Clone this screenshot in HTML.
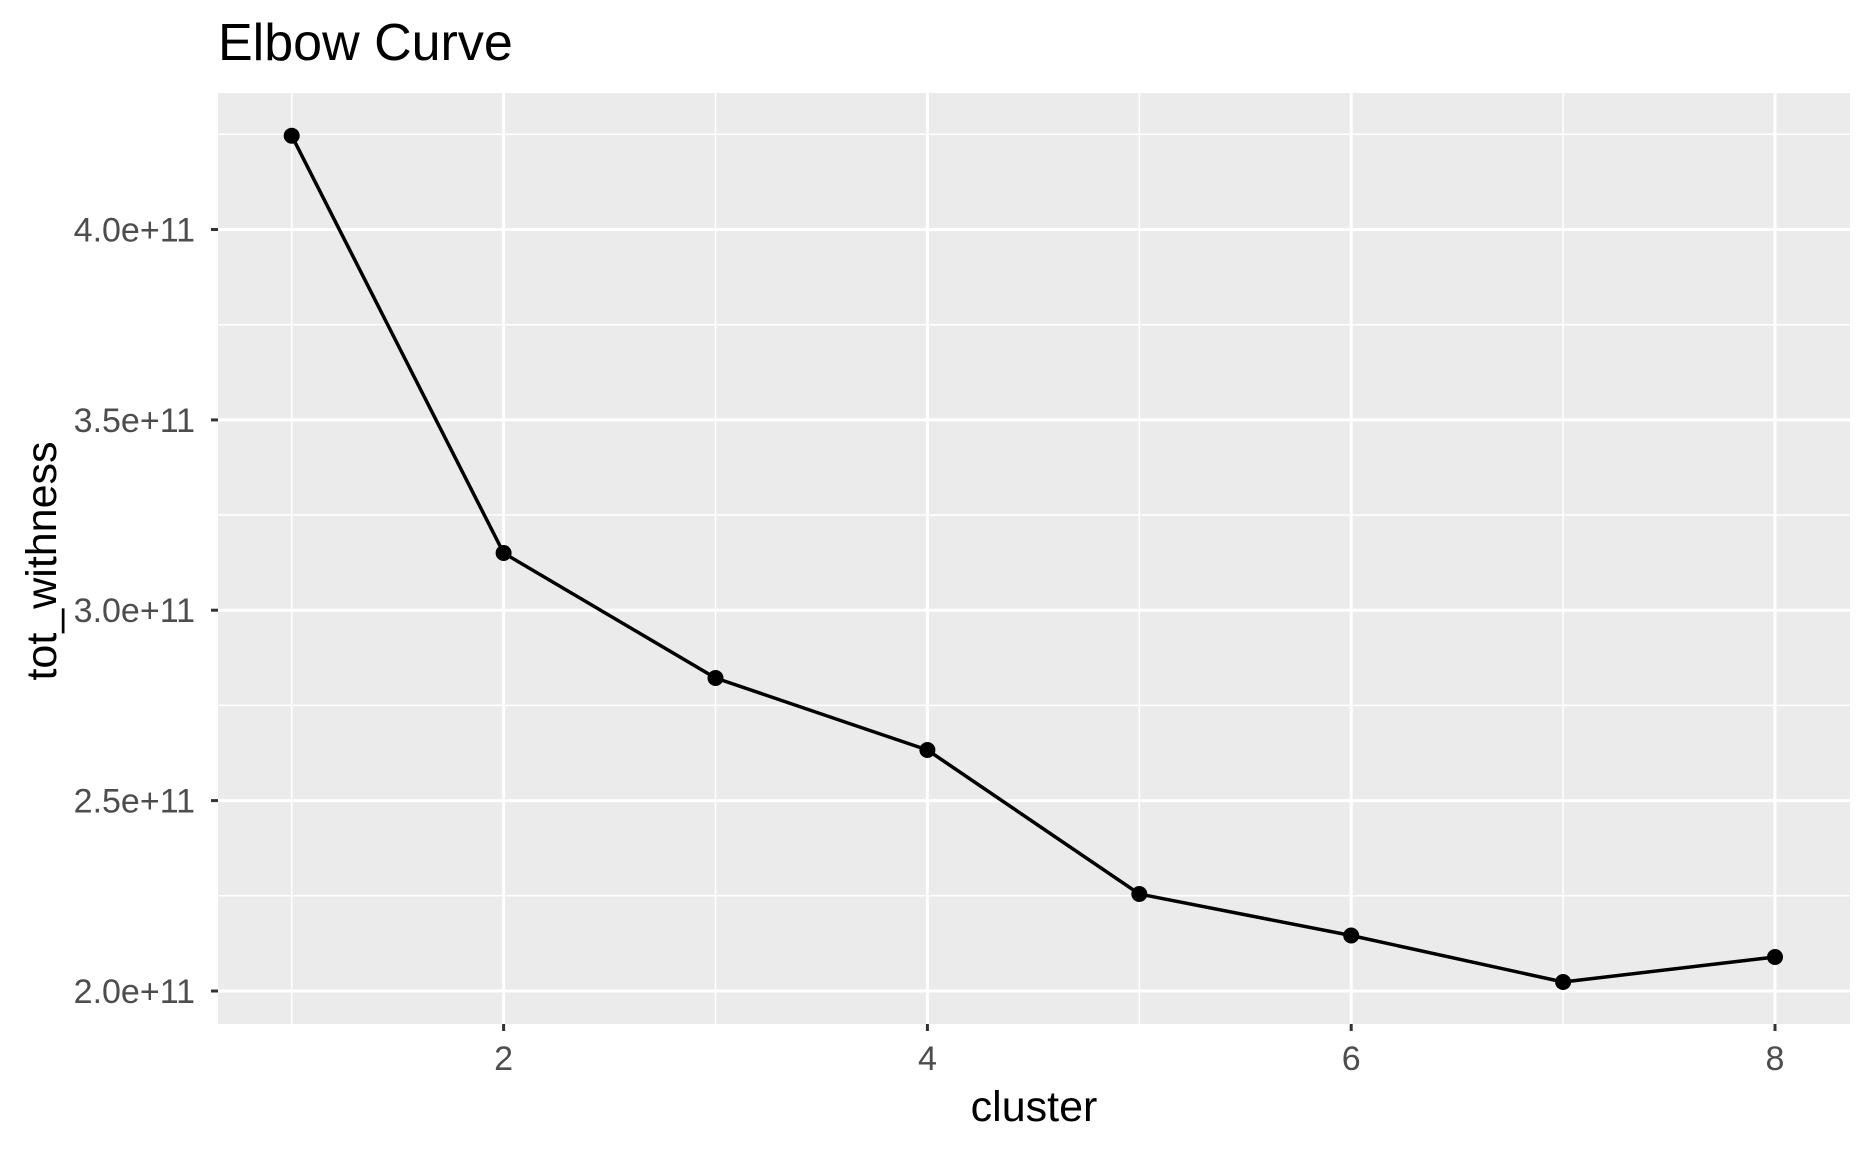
<!DOCTYPE html>
<html><head><style>body{margin:0;background:#fff}svg{display:block}</style></head><body>
<svg width="1872" height="1152" xmlns="http://www.w3.org/2000/svg" font-family="Liberation Sans, sans-serif">
<rect x="218" y="93" width="1632" height="931" fill="#ebebeb"/>
<g stroke="#fff" stroke-width="1.5">
<line x1="218" x2="1850" y1="134.3" y2="134.3"/>
<line x1="218" x2="1850" y1="324.7" y2="324.7"/>
<line x1="218" x2="1850" y1="515" y2="515"/>
<line x1="218" x2="1850" y1="705.4" y2="705.4"/>
<line x1="218" x2="1850" y1="895.8" y2="895.8"/>
<line y1="93" y2="1024" x1="291.7" x2="291.7"/>
<line y1="93" y2="1024" x1="715.5" x2="715.5"/>
<line y1="93" y2="1024" x1="1139.3" x2="1139.3"/>
<line y1="93" y2="1024" x1="1563.1" x2="1563.1"/>
</g>
<g stroke="#fff" stroke-width="3">
<line x1="218" x2="1850" y1="229.5" y2="229.5"/>
<line x1="218" x2="1850" y1="419.9" y2="419.9"/>
<line x1="218" x2="1850" y1="610.2" y2="610.2"/>
<line x1="218" x2="1850" y1="800.6" y2="800.6"/>
<line x1="218" x2="1850" y1="991" y2="991"/>
<line y1="93" y2="1024" x1="503.6" x2="503.6"/>
<line y1="93" y2="1024" x1="927.4" x2="927.4"/>
<line y1="93" y2="1024" x1="1351.2" x2="1351.2"/>
<line y1="93" y2="1024" x1="1775" x2="1775"/>
</g>
<g stroke="#333" stroke-width="3">
<line x1="211" x2="218" y1="229.5" y2="229.5"/>
<line x1="211" x2="218" y1="419.9" y2="419.9"/>
<line x1="211" x2="218" y1="610.2" y2="610.2"/>
<line x1="211" x2="218" y1="800.6" y2="800.6"/>
<line x1="211" x2="218" y1="991" y2="991"/>
<line y1="1024" y2="1031" x1="503.6" x2="503.6"/>
<line y1="1024" y2="1031" x1="927.4" x2="927.4"/>
<line y1="1024" y2="1031" x1="1351.2" x2="1351.2"/>
<line y1="1024" y2="1031" x1="1775" x2="1775"/>
</g>
<g fill="#4d4d4d" font-size="34" text-anchor="end">
<text x="195" y="241.5">4.0e+11</text>
<text x="195" y="431.9">3.5e+11</text>
<text x="195" y="622.2">3.0e+11</text>
<text x="195" y="812.6">2.5e+11</text>
<text x="195" y="1003">2.0e+11</text>
</g>
<g fill="#4d4d4d" font-size="34" text-anchor="middle">
<text x="503.6" y="1070">2</text>
<text x="927.4" y="1070">4</text>
<text x="1351.2" y="1070">6</text>
<text x="1775" y="1070">8</text>
</g>
<text x="1034" y="1121" font-size="43" text-anchor="middle">cluster</text>
<text transform="translate(56,561) rotate(-90)" font-size="43" text-anchor="middle">tot_withness</text>
<text x="218" y="60" font-size="52">Elbow Curve</text>
<polyline fill="none" stroke="#000" stroke-width="3.5" stroke-linejoin="round" points="291.7,135.7 503.6,553 715.5,678 927.4,750 1139.3,894 1351.2,935.5 1563.1,982 1775,957"/>
<g fill="#000">
<circle cx="291.7" cy="135.7" r="8"/><circle cx="503.6" cy="553" r="8"/><circle cx="715.5" cy="678" r="8"/><circle cx="927.4" cy="750" r="8"/><circle cx="1139.3" cy="894" r="8"/><circle cx="1351.2" cy="935.5" r="8"/><circle cx="1563.1" cy="982" r="8"/><circle cx="1775" cy="957" r="8"/>
</g>
</svg>
</body></html>
